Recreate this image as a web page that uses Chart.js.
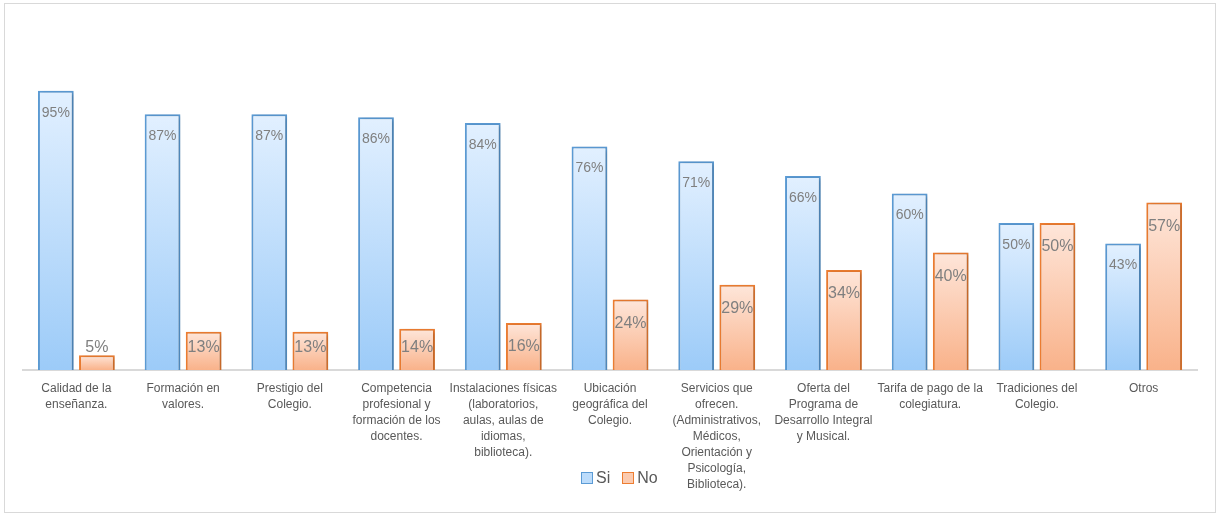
<!DOCTYPE html>
<html>
<head>
<meta charset="utf-8">
<script src="https://cdn.jsdelivr.net/npm/chart.js@4/dist/chart.umd.min.js"></script>
<style>
  body { margin: 0; background: #fff; font-family: 'Liberation Sans', Arial, sans-serif; }
  #frame { position: absolute; left: 4px; top: 3px; width: 1210px; height: 508px; border: 1px solid #d9d9d9; }
  #legend { position: absolute; left: 581px; top: 469px; display: flex; align-items: center; font-size: 16px; color: #595959; }
  #legend span.box { display: inline-block; width: 10px; height: 10px; margin-right: 3px; }
  #legend .item { display: flex; align-items: center; margin-right: 12px; }
</style>
</head>
<body>
<div id="frame"><canvas id="chart"></canvas></div>
<div id="legend">
  <div class="item"><span class="box" style="border:1px solid #5b9bd5;background:#bcdcfb"></span>Si</div>
  <div class="item"><span class="box" style="border:1px solid #ed7d31;background:#fbcbb0"></span>No</div>
</div>
<script>
// Categories (pre-wrapped like the original labels)
const categories = [
    ['Calidad de la', 'enseñanza.'],
    ['Formación en', 'valores.'],
    ['Prestigio del', 'Colegio.'],
    ['Competencia', 'profesional y', 'formación de los', 'docentes.'],
    ['Instalaciones físicas', '(laboratorios,', 'aulas, aulas de', 'idiomas,', 'biblioteca).'],
    ['Ubicación', 'geográfica del', 'Colegio.'],
    ['Servicios que', 'ofrecen.', '(Administrativos,', 'Médicos,', 'Orientación y', 'Psicología,', 'Biblioteca).'],
    ['Oferta del', 'Programa de', 'Desarrollo Integral', 'y Musical.'],
    ['Tarifa de pago de la', 'colegiatura.'],
    ['Tradiciones del', 'Colegio.'],
    'Otros'
];
const siValues = [95, 87, 87, 86, 84, 76, 71, 66, 60, 50, 43];
const noValues = [5, 13, 13, 14, 16, 24, 29, 34, 40, 50, 57];

// vertical gradient per bar, from bar top down to the baseline
function barGradient(top, bottom) {
    return function(context) {
        const chart = context.chart;
        if (!chart.chartArea) return bottom;
        const yScale = chart.scales.y;
        const y0 = yScale.getPixelForValue(context.raw);
        const y1 = yScale.getPixelForValue(0);
        const g = chart.ctx.createLinearGradient(0, y0, 0, y1);
        g.addColorStop(0, top);
        g.addColorStop(1, bottom);
        return g;
    };
}

// soft shadow behind bars
const shadowPlugin = {
    id: 'barShadow',
    beforeDatasetsDraw(chart) {
        const ctx = chart.ctx;
        ctx.save();
        ctx.shadowColor = 'rgba(0,0,0,0.22)';
        ctx.shadowBlur = 4;
        ctx.shadowOffsetX = 2;
        ctx.shadowOffsetY = 1;
    },
    afterDatasetsDraw(chart) {
        chart.ctx.restore();
    }
};

// value labels near the top of each bar
const valueLabels = {
    id: 'valueLabels',
    afterDatasetsDraw(chart) {
        const ctx = chart.ctx;
        const base = chart.scales.y.getPixelForValue(0);
        ctx.save();
        ctx.fillStyle = '#7f7f7f';
        ctx.textAlign = 'center';
        ctx.textBaseline = 'middle';
        chart.data.datasets.forEach((ds, i) => {
            const meta = chart.getDatasetMeta(i);
            ctx.font = (i === 0 ? '14px' : '16px') + " 'Liberation Sans', Arial, sans-serif";
            meta.data.forEach((bar, j) => {
                let y;
                if (i === 0) {
                    y = bar.y + 22;
                } else {
                    y = Math.min(bar.y + 24, base - 22);
                }
                ctx.fillText(ds.data[j] + '%', bar.x, y);
            });
        });
        ctx.restore();
    }
};

const chart = new Chart(document.getElementById('chart').getContext('2d'), {
    type: 'bar',
    data: {
        labels: categories,
        datasets: [{
            label: 'Si',
            data: siValues,
            backgroundColor: barGradient('#e2f0ff', '#9ccbf8'),
            borderColor: '#5b9bd5',
            borderWidth: 2,
            borderSkipped: 'bottom'
        }, {
            label: 'No',
            data: noValues,
            backgroundColor: barGradient('#fee6da', '#f9b28a'),
            borderColor: '#ed7d31',
            borderWidth: 2,
            borderSkipped: 'bottom'
        }]
    },
    options: {
        responsive: true,
        maintainAspectRatio: false,
        animation: false,
        categoryPercentage: 0.77,
        barPercentage: 0.87,
        layout: {
            padding: { left: 18, right: 18, top: 72, bottom: 0 }
        },
        plugins: {
            legend: { display: false },
            tooltip: { enabled: false }
        },
        scales: {
            x: {
                grid: { display: false, drawTicks: false },
                border: { display: true, color: '#d9d9d9', width: 2 },
                ticks: {
                    autoSkip: false,
                    maxRotation: 0,
                    minRotation: 0,
                    padding: 11,
                    color: '#595959',
                    font: { family: "'Liberation Sans', Arial, sans-serif", size: 12, lineHeight: 1.33 }
                },
                afterFit: function(scale) { scale.height = 142; }
            },
            y: {
                display: false,
                min: 0,
                max: 100
            }
        }
    },
    plugins: [shadowPlugin, valueLabels]
});
</script>
</body>
</html>
